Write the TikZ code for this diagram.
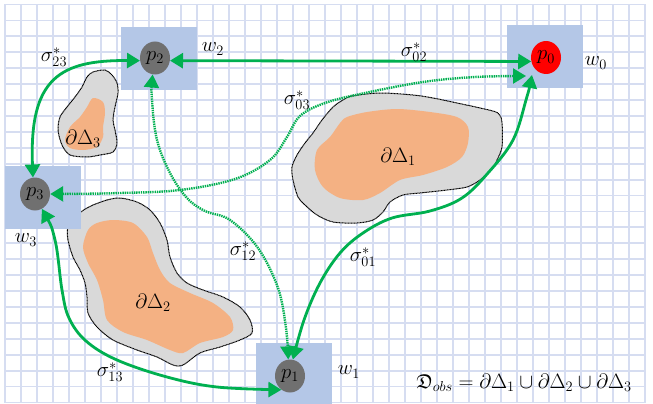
\documentclass[tikz,border=0pt]{standalone}
\usepackage{amssymb}
\usetikzlibrary{arrows.meta,shapes.geometric}
\definecolor{gridc}{RGB}{214,221,241}
\definecolor{boxc}{RGB}{180,199,231}
\definecolor{obsgray}{RGB}{217,217,217}
\definecolor{obsor}{RGB}{244,177,131}
\definecolor{pgray}{RGB}{112,112,112}
\definecolor{pgreen}{RGB}{0,176,80}
\begin{document}
\begin{tikzpicture}[x=1pt,y=-1pt,font=\fontsize{20}{24}\selectfont,
  gridline/.style={draw=gridc,line width=1.8pt},
  wbox/.style={fill=boxc,draw=none,minimum width=76pt,minimum height=63pt,inner sep=0pt},
  pnode/.style={ellipse,fill=pgray,minimum width=30pt,minimum height=33pt,inner sep=0pt},
  obsout/.style={fill=obsgray,draw=black,line width=1pt,dash pattern=on 1pt off 0.5pt},
  obsin/.style={fill=obsor,draw=none},
  solidarrow/.style={draw=pgreen,line width=2.8pt,
    {Triangle[length=13pt,width=15pt]}-{Triangle[length=13pt,width=15pt]}},
  dottedarrow/.style={draw=pgreen,line width=2.4pt,dash pattern=on 1.4pt off 0.9pt,
    {Triangle[length=13pt,width=15pt]}-{Triangle[length=13pt,width=15pt]}},
  lbl/.style={inner sep=0pt}]
\useasboundingbox (0,0) rectangle (653,404);
\clip (0,0) rectangle (653,404);
\fill[white] (0,0) rectangle (653,404);
% grid
\foreach \i in {0,...,40} \draw[gridline] ({5+16*\i},4.5) -- ({5+16*\i},402.5);
\foreach \j in {0,...,25} \draw[gridline] (5,{4.5+15.92*\j}) -- (645,{4.5+15.92*\j});
% obstacles
\draw[obsout] plot[smooth cycle,tension=0.5] coordinates {(343,100) (352,96) (380,93) (413,95) (433,98) (457,103) (480,108) (498,113) (502,123) (502,147) (497,160) (493,168) (480,180) (467,187) (447,190) (420,193) (403,195) (390,202) (383,212) (373,220) (357,223) (333,222) (317,215) (305,205) (298,197) (293,180) (292,167) (297,155) (305,143) (313,133) (322,120) (333,107)};
\fill[obsin] plot[smooth cycle,tension=0.5] coordinates {(347,117) (367,112) (397,109) (430,112) (457,117) (468,127) (468,143) (462,157) (447,167) (423,175) (400,180) (380,193) (363,200) (340,198) (323,187) (315,170) (317,150) (330,137) (340,123)};
\draw[obsout] plot[smooth cycle,tension=0.5] coordinates {(93,205) (107,200) (120,198) (137,202) (150,210) (160,223) (167,240) (170,257) (177,273) (187,283) (203,290) (223,297) (240,307) (250,320) (252,333) (240,340) (220,347) (200,353) (183,365) (173,365) (157,357) (137,350) (113,340) (97,327) (88,313) (87,297) (85,283) (80,270) (73,257) (68,240) (68,227) (77,215) (87,208)};
\fill[obsin] plot[smooth cycle,tension=0.5] coordinates {(88,230) (97,223) (113,220) (133,223) (147,237) (153,253) (160,270) (170,283) (190,293) (213,303) (230,317) (233,330) (223,337) (200,343) (183,353) (170,350) (147,340) (123,332) (107,320) (103,300) (97,280) (88,263) (83,247)};
\draw[obsout] plot[smooth cycle,tension=0.5] coordinates {(93,72) (105,70) (112,75) (117,83) (118,93) (115,107) (113,120) (115,130) (117,143) (113,152) (100,155) (87,157) (70,155) (62,145) (58,130) (60,117) (67,107) (75,97) (82,87) (87,77)};
\fill[obsin] plot[smooth cycle,tension=0.5] coordinates {(93,98) (103,102) (105,113) (103,127) (103,137) (97,147) (83,150) (70,148) (65,140) (70,127) (80,117) (87,107)};
% boxes
\node[wbox] (w2box) at (159,58.5) {};
\node[wbox] (w0box) at (545,56.5) {};
\node[wbox] (w3box) at (43,197) {};
\node[wbox] (w1box) at (293.5,374.5) {};
% robots
\node[pnode] (p2) at (155,58) {$p_2$};
\node[pnode,fill=red] (p0) at (546,57.5) {$p_0$};
\node[pnode] (p3) at (35,194) {$p_3$};
\node[pnode] (p1) at (290,376) {$p_1$};
% connectors
\draw[solidarrow] (p2.-10) -- (p0.195);
\draw[solidarrow] (p2.190) .. controls (60,60) and (29,78) .. (p3.97);
\draw[dottedarrow] plot[smooth,tension=0.6] coordinates {(p3.east) (120,193) (180,190) (235,179) (270,160) (287,137) (300,116) (325,103) (365,93) (423,82) (475,77) ([xshift=-20pt,yshift=-18.5pt]p0.center)};
\draw[dottedarrow] plot[smooth,tension=0.6] coordinates {(p2.262) (152,100) (157,140) (170,173) (187,198) (205,211) (230,220) (258,248) (278,288) (286,328) (p1.96)};
\draw[solidarrow] plot[smooth,tension=0.6] coordinates {([xshift=-14pt,yshift=-17.5pt]p0.center) (526,100) (513,140) (488,173) (462,198) (430,211) (392,218) (363,233) (340,253) (320,283) (304,320) (p1.80)};
\draw[solidarrow] plot[smooth,tension=0.6] coordinates {(p3.295) (55,240) (62,290) (69,318) (86,341) (117,360) (167,377) (217,387) (p1.238)};
% labels
\node[lbl] (lw2) at (213,49) {$w_2$};
\node[lbl] (lw0) at (596,63) {$w_0$};
\node[lbl] (lw3) at (26,240) {$w_3$};
\node[lbl] (lw1) at (349,372) {$w_1$};
\node[lbl] (s23) at (54,57) {$\sigma_{23}^{*}$};
\node[lbl] (s02) at (414,52) {$\sigma_{02}^{*}$};
\node[lbl] (s03) at (297,100) {$\sigma_{03}^{*}$};
\node[lbl] (s12) at (243,251) {$\sigma_{12}^{*}$};
\node[lbl] (s01) at (363,257) {$\sigma_{01}^{*}$};
\node[lbl] (s13) at (110,372) {$\sigma_{13}^{*}$};
\node[lbl] (d1) at (398,157) {$\partial\Delta_1$};
\node[lbl] (d2) at (153,303) {$\partial\Delta_2$};
\node[lbl] (d3) at (83,139) {$\partial\Delta_3$};
\node[lbl] (formula) at (524,383) {$\mathfrak{D}_{obs}=\partial\Delta_1\cup\partial\Delta_2\cup\partial\Delta_3$};
\end{tikzpicture}
\end{document}
